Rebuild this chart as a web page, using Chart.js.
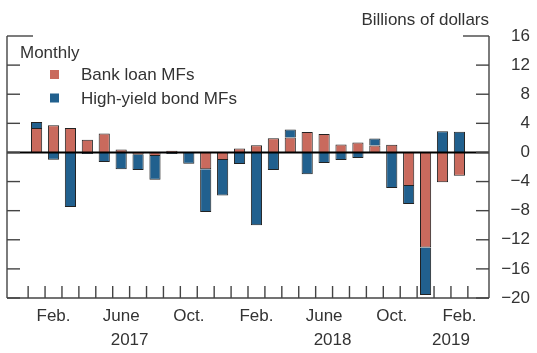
<!DOCTYPE html>
<html lang="en">
<head>
<meta charset="UTF-8">
<title>Bank loan and high-yield bond mutual fund flows</title>
<script src="https://cdn.jsdelivr.net/npm/chart.js"></script>
<style>
    html, body { margin: 0; padding: 0; background: #fff; }
</style>
</head>
<body>
<canvas id="flows" width="537" height="353"></canvas>
<script>
    // monthly flows, Jan 2017 .. Feb 2019 (billions of dollars)
    const months = ['Jan 2017', 'Feb 2017', 'Mar 2017', 'Apr 2017', 'May 2017', 'Jun 2017',
        'Jul 2017', 'Aug 2017', 'Sep 2017', 'Oct 2017', 'Nov 2017', 'Dec 2017',
        'Jan 2018', 'Feb 2018', 'Mar 2018', 'Apr 2018', 'May 2018', 'Jun 2018',
        'Jul 2018', 'Aug 2018', 'Sep 2018', 'Oct 2018', 'Nov 2018', 'Dec 2018',
        'Jan 2019', 'Feb 2019'];
    const bankLoan = [3.35, 3.75, 3.35, 1.75, 2.6, 0.4, -0.3, -0.5, 0.25, 0, -2.3, -1.05,
        0.55, 1.0, 1.95, 2.05, 2.8, 2.55, 1.1, 1.35, 0.95, 1.05, -4.6, -13.05, -4.1, -3.2];
    const highYield = [0.85, -1.0, -7.5, -0.2, -1.3, -2.3, -2.1, -3.25, -0.2, -1.55, -5.9, -4.85,
        -1.6, -10.0, -2.4, 1.1, -3.0, -1.45, -1.05, -0.75, 0.95, -4.9, -2.5, -6.55, 2.9, 2.85];

    // axis labels
    const monthLabels = ['Feb.', 'June', 'Oct.', 'Feb.', 'June', 'Oct.', 'Feb.'];
    const monthLabelPos = [1, 5, 9, 13, 17, 21, 25];
    const yearLabels = ['2017', '2018', '2019'];
    const yearLabelPos = [5.5, 17.5, 24.5];
    const yTicks = [-20, -16, -12, -8, -4, 0, 4, 8, 12, 16];

    const RED = '#c96a5d';
    const BLUE = '#21608e';
    const INK = '#333';
    const FONT = "'Liberation Sans', Arial, sans-serif";

    Chart.defaults.font.family = FONT;
    Chart.defaults.font.size = 17;
    Chart.defaults.color = INK;

    const toPoints = arr => arr.map((v, i) => ({ x: i, y: v }));

    // axes frame, inward ticks, zero line, legend and unit label
    const frame = {
        id: 'frame',
        afterDatasetsDraw(chart) {
            const { ctx, chartArea: a, scales } = chart;
            const x = scales.x, y = scales.y;
            const seg = (x1, y1, x2, y2) => {
                ctx.beginPath(); ctx.moveTo(x1, y1); ctx.lineTo(x2, y2); ctx.stroke();
            };
            ctx.save();
            const y0 = y.getPixelForValue(0);
            ctx.strokeStyle = '#000';
            ctx.lineWidth = 2;
            seg(a.left, y0, a.right, y0);

            ctx.strokeStyle = '#444';
            ctx.lineWidth = 1.4;
            seg(a.left, a.top, a.left, a.bottom);
            seg(a.right, a.top, a.right, a.bottom);
            seg(a.left, a.bottom, a.right, a.bottom);
            yTicks.forEach(v => {
                const py = y.getPixelForValue(v);
                const len = v === yTicks[yTicks.length - 1] ? 26 : 13;
                seg(a.left, py, a.left + len, py);
                seg(a.right - len, py, a.right, py);
            });
            for (let i = 0; i <= months.length; i++) {
                const px = x.getPixelForValue(i - 0.5);
                seg(px, a.bottom, px, a.bottom - 12);
            }

            ctx.fillStyle = INK;
            ctx.font = '17px ' + FONT;
            ctx.textBaseline = 'alphabetic';
            ctx.textAlign = 'right';
            ctx.fillText('Billions of dollars', a.right, 25);
            ctx.textAlign = 'left';
            ctx.fillText('Monthly', 20, 58);
            chart.data.datasets.forEach((ds, k) => {
                ctx.fillStyle = ds.backgroundColor;
                ctx.fillRect(50, 70 + k * 23.5, 9, 9);
                ctx.fillStyle = INK;
                ctx.fillText(ds.label, 81, 80 + k * 23.5);
            });
            ctx.restore();
        }
    };

    new Chart(document.getElementById('flows'), {
        type: 'bar',
        data: {
            datasets: [{
                label: 'Bank loan MFs',
                data: toPoints(bankLoan),
                backgroundColor: RED,
                borderColor: '#222',
                borderWidth: 1,
                barPercentage: 0.66,
                categoryPercentage: 1
            }, {
                label: 'High-yield bond MFs',
                data: toPoints(highYield),
                backgroundColor: BLUE,
                borderColor: '#222',
                borderWidth: 1,
                barPercentage: 0.66,
                categoryPercentage: 1
            }]
        },
        options: {
            responsive: false,
            animation: false,
            layout: { padding: { left: 7, right: 7, top: 36, bottom: 5 } },
            plugins: {
                legend: { display: false },
                tooltip: { enabled: false }
            },
            scales: {
                x: {
                    type: 'linear',
                    stacked: true,
                    offset: false,
                    min: -1.75,
                    max: 26.75,
                    grid: { display: false, drawTicks: false, offset: false },
                    border: { display: false },
                    afterBuildTicks: s => { s.ticks = monthLabelPos.map(v => ({ value: v })); },
                    afterFit: s => { s.height = 26; },
                    ticks: {
                        padding: 8,
                        maxRotation: 0,
                        autoSkip: false,
                        callback: (v, i) => monthLabels[i]
                    }
                },
                x2: {
                    type: 'linear',
                    position: 'bottom',
                    offset: false,
                    min: -1.75,
                    max: 26.75,
                    grid: { display: false, drawTicks: false, offset: false },
                    border: { display: false },
                    afterBuildTicks: s => { s.ticks = yearLabelPos.map(v => ({ value: v })); },
                    afterFit: s => { s.height = 24; },
                    ticks: {
                        padding: 6,
                        maxRotation: 0,
                        autoSkip: false,
                        callback: (v, i) => yearLabels[i]
                    }
                },
                y: {
                    position: 'right',
                    stacked: true,
                    min: -20,
                    max: 16,
                    grid: { display: false, drawTicks: false },
                    border: { display: false },
                    afterBuildTicks: s => { s.ticks = yTicks.map(v => ({ value: v })); },
                    afterFit: s => { s.width = 41; },
                    ticks: {
                        padding: 12,
                        crossAlign: 'far',
                        callback: v => String(v).replace('-', '\u2212')
                    }
                }
            }
        },
        plugins: [frame]
    });
</script>
</body>
</html>
